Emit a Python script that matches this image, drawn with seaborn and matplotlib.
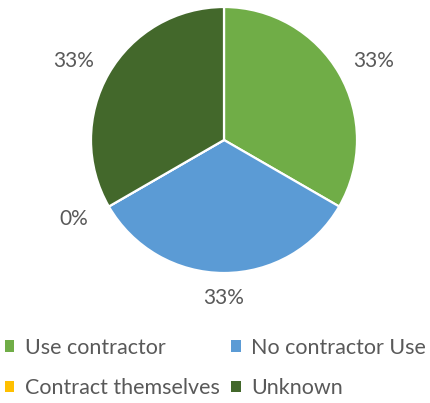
import matplotlib
matplotlib.use("Agg")
import matplotlib.pyplot as plt
import seaborn as sns
from matplotlib.patches import Patch

categories = ["Use contractor", "No contractor Use", "Contract themselves", "Unknown"]
counts = [1, 1, 0, 1]
colors = ["#70AD47", "#5B9BD5", "#FFC000", "#43682B"]

sns.set_theme(style="white")
plt.rcParams["font.family"] = ["Lato", "DejaVu Sans"]
text_color = "#595959"

W, H, DPI = 431, 403, 100
fig = plt.figure(figsize=(W / DPI, H / DPI), dpi=DPI)
ax = fig.add_axes([0, 0, 1, 1])

palette = sns.color_palette(colors)
wedges, texts, autotexts = ax.pie(
    counts,
    colors=palette,
    startangle=90,
    counterclock=False,
    autopct="%1.0f%%",
    pctdistance=1.19,
    wedgeprops=dict(edgecolor="white", linewidth=1.6),
    textprops=dict(color=text_color, fontsize=15),
    radius=1,
)

# spread the outside percentage labels a little wider horizontally
for t in autotexts:
    x, y = t.get_position()
    t.set_position((x * 1.095, y))

# pie geometry in pixels: centre and radius
cx, cy, r = 224, 140, 133
ax.set_xlim(-cx / r, (W - cx) / r)
ax.set_ylim((cy - H) / r, cy / r)
ax.set_aspect("equal")
ax.axis("off")

# legend fills column-wise, so order entries to read row by row
order = [0, 2, 1, 3]
handles = [Patch(facecolor=palette[i], edgecolor="none") for i in order]
labels = [categories[i] for i in order]
fig.legend(
    handles, labels,
    loc="center", bbox_to_anchor=(0.5, 1 - 368 / H),
    ncol=2, frameon=False, fontsize=15.5,
    labelcolor=text_color,
    handlelength=0.45, handleheight=0.45, handletextpad=0.5,
    columnspacing=0.5, labelspacing=0.95,
)

fig.savefig("out.png", dpi=DPI)
